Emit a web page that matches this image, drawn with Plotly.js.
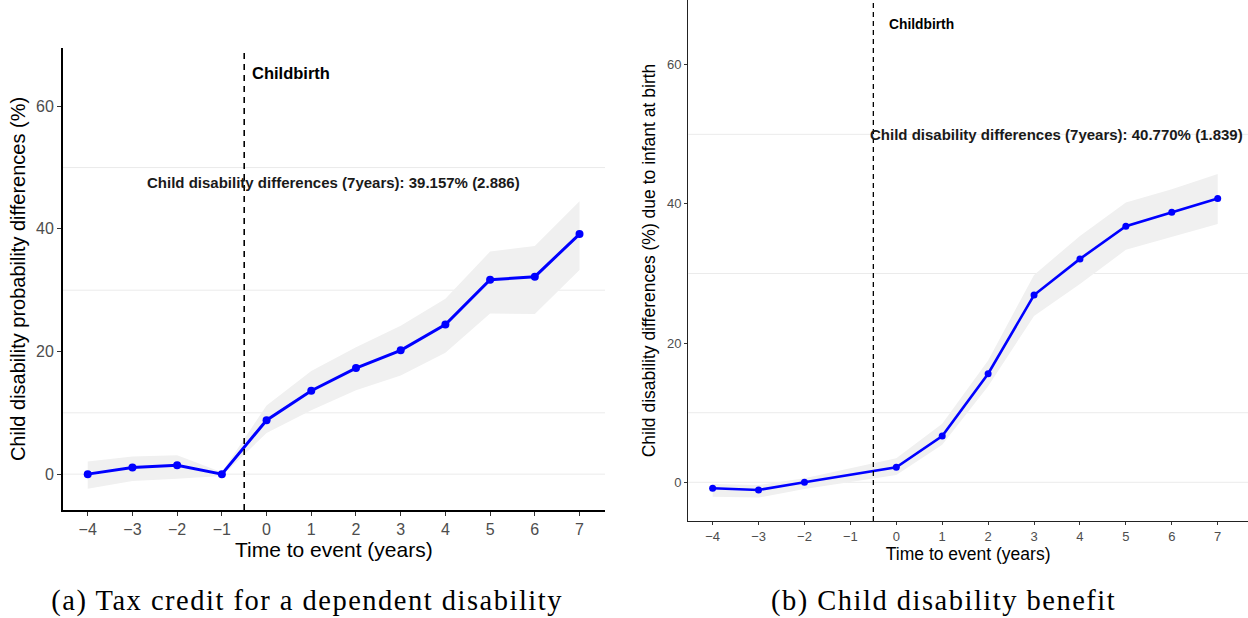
<!DOCTYPE html>
<html>
<head>
<meta charset="utf-8">
<script src="https://cdn.plot.ly/plotly-3.0.1.min.js"></script>
<style>
html,body{margin:0;padding:0;background:#fff;}
#chart{width:1248px;height:618px;}
.annotation[data-index="4"] text, .annotation[data-index="5"] text {letter-spacing:1.5px;}
</style>
</head>
<body>
<div id="chart"></div>
<script>
// ---- Panel (a): Tax credit for a dependent disability ----
const yearsA = [-4, -3, -2, -1, 0, 1, 2, 3, 4, 5, 6, 7];
const estA   = [0, 1.07, 1.46, 0, 8.8, 13.6, 17.3, 20.2, 24.4, 31.7, 32.2, 39.157];
const upperA = [2.05, 2.86, 3.08, 0.3, 11.2, 16.8, 20.7, 24.2, 28.6, 36.3, 37.2, 44.5];
const lowerA = [-2.4, -1.1, -0.76, -0.3, 6.7, 10.4, 13.7, 16.1, 19.8, 26.2, 26.1, 33.3];

// ---- Panel (b): Child disability benefit ----
const yearsB = [-4, -3, -2, 0, 1, 2, 3, 4, 5, 6, 7];
const estB   = [-0.86, -1.1, 0, 2.15, 6.65, 15.6, 26.9, 32.1, 36.8, 38.8, 40.77];
const upperB = [-0.25, -0.4, 0.57, 3.45, 8.4, 17.5, 29.8, 35.4, 40.2, 42.1, 44.3];
const lowerB = [-2.07, -2.2, -0.96, 1.05, 5.4, 13.8, 23.9, 28.5, 33.4, 35.2, 37.1];

const xTicks = [-4, -3, -2, -1, 0, 1, 2, 3, 4, 5, 6, 7];
const yTicks = [0, 20, 40, 60];
const gridVals = [0, 10, 30, 50];
const eventLine = -0.5;

const labelEvent = "Childbirth";
const noteA = "Child disability differences (7years): 39.157% (2.886)";
const noteB = "Child disability differences (7years): 40.770% (1.839)";
const xTitle = "Time to event (years)";
const yTitleA = "Child disability probability differences (%)";
const yTitleB = "Child disability differences (%) due to infant at birth";
const captionA = "(a) Tax credit for a dependent disability";
const captionB = "(b) Child disability benefit";

const BAND = "#F0F0F0";
const BLUE = "#0000FF";

function band(x, up, lo, xa, ya) {
  return [
    {x: x, y: up, xaxis: xa, yaxis: ya, mode: "lines", line: {width: 0, color: BAND},
     hoverinfo: "skip", showlegend: false},
    {x: x, y: lo, xaxis: xa, yaxis: ya, mode: "lines", line: {width: 0, color: BAND},
     fill: "tonexty", fillcolor: BAND, hoverinfo: "skip", showlegend: false}
  ];
}

const traces = [
  ...band(yearsA, upperA, lowerA, "x", "y"),
  {x: yearsA, y: estA, xaxis: "x", yaxis: "y", mode: "lines+markers",
   line: {color: BLUE, width: 3}, marker: {color: BLUE, size: 8}, showlegend: false},
  ...band(yearsB, upperB, lowerB, "x2", "y2"),
  {x: yearsB, y: estB, xaxis: "x2", yaxis: "y2", mode: "lines+markers",
   line: {color: BLUE, width: 2.6}, marker: {color: BLUE, size: 7}, showlegend: false}
];

const shapes = [];
gridVals.forEach(v => {
  shapes.push({type: "line", xref: "x domain", yref: "y", x0: 0, x1: 1, y0: v, y1: v,
    line: {color: "#EBEBEB", width: 1}, layer: "below"});
  shapes.push({type: "line", xref: "x2 domain", yref: "y2", x0: 0, x1: 1, y0: v, y1: v,
    line: {color: "#EBEBEB", width: 1}, layer: "below"});
});
shapes.push({type: "line", xref: "x", yref: "y domain", x0: eventLine, x1: eventLine, y0: 0, y1: 1,
  line: {color: "#000", width: 1.6, dash: "6px,5px"}});
shapes.push({type: "line", xref: "x2", yref: "y2 domain", x0: eventLine, x1: eventLine, y0: 0, y1: 1,
  line: {color: "#000", width: 1.3, dash: "5px,4px"}});

const FONT = "Liberation Sans, Arial, sans-serif";
const SERIF = "Liberation Serif, Times New Roman, serif";

const annotations = [
  {xref: "x", yref: "y", x: -0.37, y: 65.4, xanchor: "left", yanchor: "middle", showarrow: false,
   text: "<b>" + labelEvent + "</b>", font: {family: FONT, size: 16.5, color: "#000"}},
  {xref: "x", yref: "y", x: 1.5, y: 47.5, xanchor: "center", yanchor: "middle", showarrow: false,
   text: "<b>" + noteA + "</b>", font: {family: FONT, size: 15, color: "#1a1a1a"}},
  {xref: "x2", yref: "y2", x: -0.21, y: 65.8, xanchor: "left", yanchor: "middle", showarrow: false,
   text: "<b>" + labelEvent + "</b>", font: {family: FONT, size: 13.8, color: "#000"}},
  {xref: "x2", yref: "y2", x: 3.48, y: 50, xanchor: "center", yanchor: "middle", showarrow: false,
   text: "<b>" + noteB + "</b>", font: {family: FONT, size: 15, color: "#1a1a1a"}},
  {xref: "paper", yref: "paper", x: 307/1248, y: (618-601)/618, xanchor: "center", yanchor: "middle",
   showarrow: false, text: captionA, font: {family: SERIF, size: 28.5, color: "#000"}},
  {xref: "paper", yref: "paper", x: 943/1248, y: (618-601)/618, xanchor: "center", yanchor: "middle",
   showarrow: false, text: captionB, font: {family: SERIF, size: 28.5, color: "#000"}}
];

const layout = {
  width: 1248, height: 618,
  margin: {l: 0, r: 0, t: 0, b: 0, pad: 0},
  paper_bgcolor: "#fff", plot_bgcolor: "#fff",
  showlegend: false,
  font: {family: FONT},
  xaxis: {
    domain: [62.7/1248, 605/1248], range: [-4.56, 7.57],
    tickmode: "array", tickvals: xTicks, ticks: "outside", ticklen: 4, tickwidth: 1, tickcolor: "#333",
    tickfont: {family: FONT, size: 16, color: "#4D4D4D"},
    showgrid: false, zeroline: false, showline: true, linecolor: "#000", linewidth: 1.6,
    title: {text: xTitle, font: {family: FONT, size: 21, color: "#000"}, standoff: 1},
    anchor: "y", fixedrange: true
  },
  yaxis: {
    domain: [(618-510)/618, (618-48)/618], range: [-5.85, 69.5],
    tickmode: "array", tickvals: yTicks, ticks: "outside", ticklen: 4, tickwidth: 1, tickcolor: "#333",
    tickfont: {family: FONT, size: 16, color: "#4D4D4D"},
    showgrid: false, zeroline: false, showline: true, linecolor: "#000", linewidth: 1.6,
    title: {text: yTitleA, font: {family: FONT, size: 20, color: "#000"}, standoff: 5},
    anchor: "x", fixedrange: true
  },
  xaxis2: {
    domain: [688.3/1248, 1], range: [-4.53, 7.66],
    tickmode: "array", tickvals: xTicks, ticks: "outside", ticklen: 3, tickwidth: 1, tickcolor: "#333",
    tickfont: {family: FONT, size: 13, color: "#4D4D4D"},
    showgrid: false, zeroline: false, showline: true, linecolor: "#222", linewidth: 1.3,
    title: {text: xTitle, font: {family: FONT, size: 17.5, color: "#000"}, standoff: 2},
    anchor: "y2", fixedrange: true
  },
  yaxis2: {
    domain: [(618-521)/618, 1], range: [-5.56, 69.3],
    tickmode: "array", tickvals: yTicks, ticks: "outside", ticklen: 3, tickwidth: 1, tickcolor: "#333",
    tickfont: {family: FONT, size: 13, color: "#4D4D4D"},
    showgrid: false, zeroline: false, showline: true, linecolor: "#222", linewidth: 1.3,
    title: {text: yTitleB, font: {family: FONT, size: 17.5, color: "#000"}, standoff: 6},
    anchor: "x2", fixedrange: true
  },
  shapes: shapes,
  annotations: annotations
};

Plotly.newPlot("chart", traces, layout, {displayModeBar: false, staticPlot: true});
</script>
</body>
</html>
